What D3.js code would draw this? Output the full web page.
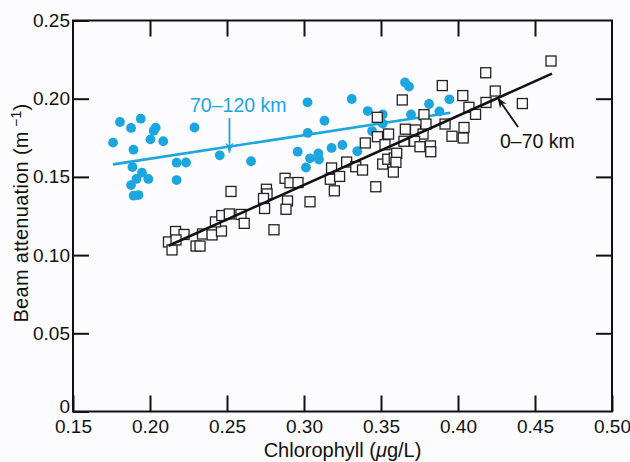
<!DOCTYPE html>
<html>
<head>
<meta charset="utf-8">
<script src="https://cdn.jsdelivr.net/npm/d3@7"></script>
<style>
    body { margin: 0; background: #fcfbfd; }
    svg { display: block; }
    text { font-family: "Liberation Sans", Arial, Helvetica, sans-serif; }
</style>
</head>
<body>
<div id="chart"></div>
<script>

// 70-120 km stations (filled blue dots): [chlorophyll, beam attenuation]
const offshorePoints = [
    [0.1760, 0.1719], [0.1805, 0.1851], [0.1877, 0.1813], [0.1940, 0.1872],
    [0.1893, 0.1674], [0.1886, 0.1563], [0.2003, 0.1740], [0.2037, 0.1815],
    [0.2024, 0.1795], [0.2086, 0.1728], [0.1877, 0.1448], [0.1912, 0.1487],
    [0.1948, 0.1527], [0.1989, 0.1487], [0.1894, 0.1380], [0.1925, 0.1384],
    [0.2173, 0.1591], [0.2234, 0.1592], [0.2173, 0.1480], [0.2289, 0.1816],
    [0.2453, 0.1638], [0.2656, 0.1600], [0.2959, 0.1661], [0.3023, 0.1977],
    [0.3024, 0.1781], [0.3013, 0.1560], [0.3039, 0.1619], [0.3093, 0.1650],
    [0.3097, 0.1611], [0.3133, 0.1859], [0.3179, 0.1685], [0.3249, 0.1704],
    [0.3346, 0.1664], [0.3310, 0.1998], [0.3414, 0.1921], [0.3442, 0.1793],
    [0.3511, 0.1899], [0.3511, 0.1841], [0.3539, 0.1779], [0.3656, 0.2104],
    [0.3682, 0.2077], [0.3695, 0.1900], [0.3812, 0.1966], [0.3879, 0.1919],
    [0.3944, 0.1996]
];

// 0-70 km stations (open squares)
const nearshorePoints = [
    [0.2120, 0.1084], [0.2166, 0.1151], [0.2143, 0.1033], [0.2221, 0.1132],
    [0.2169, 0.1097], [0.2299, 0.1058], [0.2325, 0.1058], [0.2341, 0.1135],
    [0.2403, 0.1129], [0.2464, 0.1154], [0.2425, 0.1212], [0.2466, 0.1253],
    [0.2515, 0.1263], [0.2591, 0.1260], [0.2612, 0.1203], [0.2526, 0.1407],
    [0.2805, 0.1162], [0.2756, 0.1421], [0.2760, 0.1391], [0.2737, 0.1362],
    [0.2744, 0.1298], [0.2877, 0.1491], [0.2909, 0.1463], [0.2961, 0.1464],
    [0.2893, 0.1346], [0.2883, 0.1293], [0.3039, 0.1341], [0.3197, 0.1411],
    [0.3171, 0.1485], [0.3179, 0.1557], [0.3231, 0.1503], [0.3277, 0.1595],
    [0.3336, 0.1565], [0.3380, 0.1544], [0.3466, 0.1437], [0.3398, 0.1717],
    [0.3476, 0.1881], [0.3477, 0.1757], [0.3549, 0.1774], [0.3526, 0.1706],
    [0.3511, 0.1582], [0.3544, 0.1613], [0.3586, 0.1621], [0.3602, 0.1651],
    [0.3597, 0.1593], [0.3580, 0.1531], [0.3638, 0.1992], [0.3779, 0.1898],
    [0.3658, 0.1805], [0.3724, 0.1800], [0.3773, 0.1774], [0.3792, 0.1838],
    [0.3916, 0.1838], [0.3649, 0.1728], [0.3718, 0.1728], [0.3753, 0.1693],
    [0.3821, 0.1698], [0.3823, 0.1661], [0.3898, 0.2084], [0.3961, 0.1760],
    [0.4034, 0.1749], [0.4039, 0.1816], [0.4031, 0.2020], [0.4071, 0.1945],
    [0.4114, 0.1900], [0.4180, 0.2166], [0.4182, 0.1976], [0.4242, 0.2049],
    [0.4418, 0.1969], [0.4604, 0.2241]
];

// fitted lines, end points
const offshoreFit = [[0.176, 0.158], [0.395, 0.191]];
const nearshoreFit = [[0.212, 0.106], [0.461, 0.216]];

const xTicks = [0.15, 0.20, 0.25, 0.30, 0.35, 0.40, 0.45, 0.50];
const yTicks = [0, 0.05, 0.10, 0.15, 0.20, 0.25];

const width = 630;
const height = 462;
const margin = { top: 20.5, right: 18, bottom: 50.5, left: 73 };

const blue = "#1ba6df";

const svg = d3.select("#chart")
    .append("svg")
    .attr("width", width)
    .attr("height", height);

const x = d3.scaleLinear()
    .domain([0.15, 0.50])
    .range([margin.left, width - margin.right]);

const y = d3.scaleLinear()
    .domain([0, 0.25])
    .range([height - margin.bottom, margin.top]);

// axes, ticks pointing inward
svg.append("g")
    .attr("class", "axis")
    .attr("transform", "translate(0," + (height - margin.bottom) + ")")
    .call(d3.axisBottom(x)
        .tickValues(xTicks)
        .tickSize(-16)
        .tickPadding(8)
        .tickFormat(d3.format(".2f")));

svg.append("g")
    .attr("class", "axis")
    .attr("transform", "translate(" + margin.left + ",0)")
    .call(d3.axisLeft(y)
        .tickValues(yTicks)
        .tickSize(-16)
        .tickPadding(3)
        .tickFormat(function(d) {
            return d === 0 ? "0" : d3.format(".2f")(d);
        }));

svg.append("g")
    .attr("class", "axis")
    .attr("transform", "translate(0," + margin.top + ")")
    .call(d3.axisTop(x)
        .tickValues(xTicks.slice(1, -1))
        .tickSize(-16)
        .tickFormat(""));

svg.append("g")
    .attr("class", "axis")
    .attr("transform", "translate(" + (width - margin.right) + ",0)")
    .call(d3.axisRight(y)
        .tickValues(yTicks.slice(1, -1))
        .tickSize(-16)
        .tickFormat(""));

svg.selectAll(".axis .domain").remove();
svg.selectAll(".axis line")
    .attr("stroke", "#111")
    .attr("stroke-width", 2);
svg.selectAll(".axis text")
    .attr("fill", "#111")
    .style("font-size", "19px");

// lift the "0" label off the corner
svg.selectAll(".axis text")
    .filter(function(d) { return d === 0; })
    .attr("dy", "0.05em");

// frame
svg.append("rect")
    .attr("x", margin.left)
    .attr("y", margin.top)
    .attr("width", width - margin.left - margin.right)
    .attr("height", height - margin.top - margin.bottom)
    .attr("fill", "none")
    .attr("stroke", "#111")
    .attr("stroke-width", 2);

const line = d3.line()
    .x(function(d) { return x(d[0]); })
    .y(function(d) { return y(d[1]); });

// blue dots
svg.append("g")
    .selectAll("circle")
    .data(offshorePoints)
    .enter()
    .append("circle")
    .attr("cx", function(d) { return x(d[0]); })
    .attr("cy", function(d) { return y(d[1]); })
    .attr("r", 4.9)
    .attr("fill", blue);

svg.append("path")
    .datum(offshoreFit)
    .attr("d", line)
    .attr("fill", "none")
    .attr("stroke", blue)
    .attr("stroke-width", 2.6);

// squares
svg.append("g")
    .selectAll("rect")
    .data(nearshorePoints)
    .enter()
    .append("rect")
    .attr("x", function(d) { return x(d[0]) - 5; })
    .attr("y", function(d) { return y(d[1]) - 5; })
    .attr("width", 10)
    .attr("height", 10)
    .attr("fill", "#fcfbfd")
    .attr("stroke", "#222")
    .attr("stroke-width", 1.3);

svg.append("path")
    .datum(nearshoreFit)
    .attr("d", line)
    .attr("fill", "none")
    .attr("stroke", "#111")
    .attr("stroke-width", 2.6);

// annotations with arrows
const defs = svg.append("defs");

function addArrowHead(id, colour) {
    defs.append("marker")
        .attr("id", id)
        .attr("viewBox", "0 0 10 10")
        .attr("refX", 10)
        .attr("refY", 5)
        .attr("markerWidth", 10)
        .attr("markerHeight", 10)
        .attr("markerUnits", "userSpaceOnUse")
        .attr("orient", "auto")
        .append("path")
        .attr("d", "M0,1 L10,5 L0,9 L3,5 Z")
        .attr("fill", colour);
}

addArrowHead("arrow-blue", blue);
addArrowHead("arrow-black", "#111");

svg.append("text")
    .attr("x", 190)
    .attr("y", 112)
    .attr("fill", blue)
    .style("font-size", "19.5px")
    .text("70–120 km");

svg.append("line")
    .attr("x1", x(0.2516)).attr("y1", 118)
    .attr("x2", x(0.2516)).attr("y2", y(0.1655))
    .attr("stroke", blue)
    .attr("stroke-width", 1.8)
    .attr("marker-end", "url(#arrow-blue)");

svg.append("text")
    .attr("x", 500)
    .attr("y", 148)
    .attr("fill", "#111")
    .style("font-size", "19.5px")
    .text("0–70 km");

svg.append("line")
    .attr("x1", 518).attr("y1", 127)
    .attr("x2", x(0.4257)).attr("y2", y(0.2006))
    .attr("stroke", "#111")
    .attr("stroke-width", 1.8)
    .attr("marker-end", "url(#arrow-black)");

// axis titles
const xTitle = svg.append("text")
    .attr("x", (margin.left + width - margin.right) / 2)
    .attr("y", 457)
    .attr("text-anchor", "middle")
    .attr("fill", "#111")
    .style("font-size", "20px");

xTitle.append("tspan").text("Chlorophyll (");
xTitle.append("tspan").style("font-style", "italic").text("μ");
xTitle.append("tspan").text("g/L)");

const yTitle = svg.append("text")
    .attr("transform", "translate(28,213) rotate(-90)")
    .attr("text-anchor", "middle")
    .attr("fill", "#111")
    .style("font-size", "20px")
    .style("letter-spacing", "0.3px");

yTitle.append("tspan").text("Beam attenuation (m");
yTitle.append("tspan")
    .attr("dy", "-0.5em")
    .style("font-size", "14px")
    .text(" −1");
yTitle.append("tspan")
    .attr("dy", "0.35em")
    .text(")");

</script>
</body>
</html>
